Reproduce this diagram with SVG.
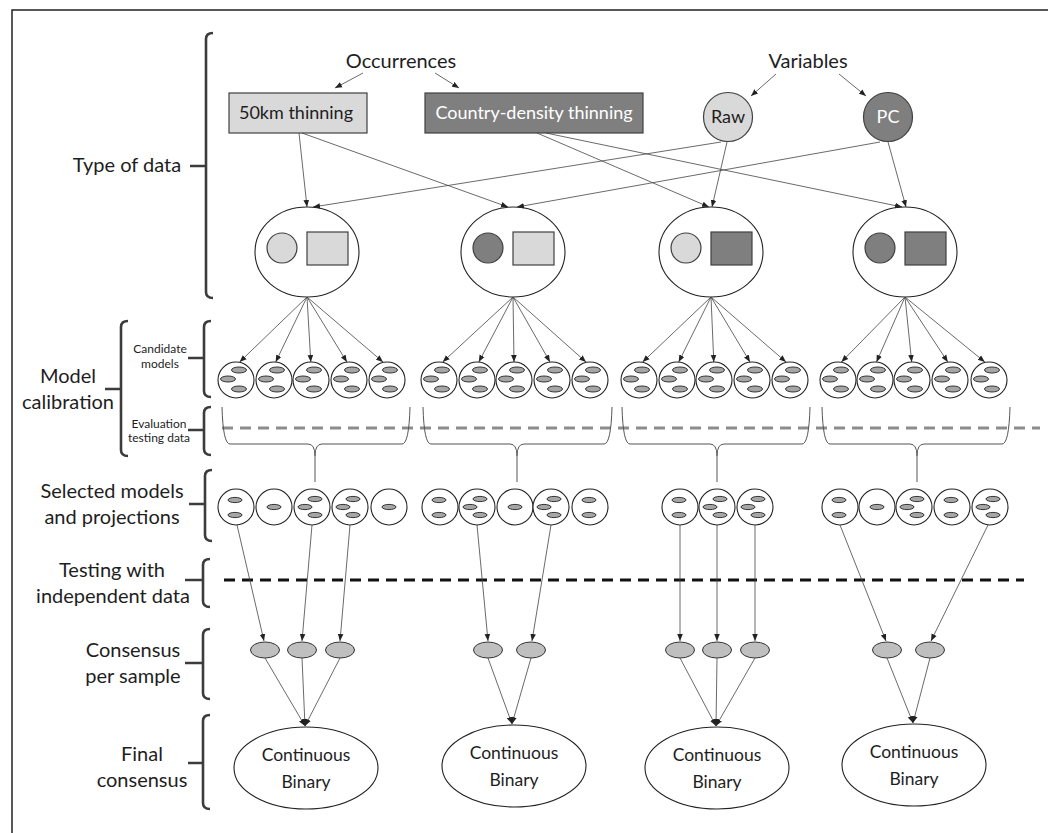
<svg xmlns="http://www.w3.org/2000/svg" xmlns:xlink="http://www.w3.org/1999/xlink" width="1048" height="833" viewBox="0 0 1048 833">
<style>
.t{font-family:Lato,"Open Sans","DejaVu Sans",sans-serif;fill:#1e1e1e}
.big{font-size:20px}
.top{font-size:20px}
.box{font-size:18px}
.sm{font-size:12px}
.fin{font-size:17.5px}
.br{fill:none;stroke:#3c3c3c;stroke-width:2.6}
.brace{fill:none;stroke:#555;stroke-width:1}
.con{fill:none;stroke:#444;stroke-width:0.8}
.light{fill:#d9d9d9;stroke:#404040;stroke-width:1.2}
.dark{fill:#7f7f7f;stroke:#404040;stroke-width:1.2}
.node{fill:#fff;stroke:#222;stroke-width:1.1}
.mini{fill:#a6a6a6;stroke:#222;stroke-width:0.9}
.cons{fill:#bfbfbf;stroke:#333;stroke-width:1}
</style>
<defs>
<marker id="ah" viewBox="0 0 10 10" refX="10" refY="5" markerWidth="7" markerHeight="7" markerUnits="userSpaceOnUse" orient="auto"><path d="M0,1 L10,5 L0,9 z" fill="#222"/></marker>
<g id="cand"><circle r="18" class="node"/><ellipse cx="3" cy="-10" rx="7.5" ry="3" class="mini"/><ellipse cx="-8" cy="-1" rx="7.5" ry="3" class="mini"/><ellipse cx="3" cy="9" rx="7.5" ry="3" class="mini"/></g>
<g id="s3"><circle r="18" class="node"/><ellipse cx="3" cy="-8" rx="7" ry="2.6" class="mini"/><ellipse cx="-7" cy="0" rx="7" ry="2.6" class="mini"/><ellipse cx="3" cy="8" rx="7" ry="2.6" class="mini"/></g>
<g id="s2"><circle r="18" class="node"/><ellipse cx="-1" cy="-7" rx="7" ry="2.6" class="mini"/><ellipse cx="-1" cy="8" rx="7" ry="2.6" class="mini"/></g>
<g id="s1"><circle r="18" class="node"/><ellipse cx="0" cy="0" rx="7" ry="2.6" class="mini"/></g>
</defs>
<rect width="1048" height="833" fill="#fff"/>
<g id="frame" fill="none" stroke="#222" stroke-width="1.5"><path d="M12 833 V10 H1048"/></g>

<g id="labels">
<text class="t big" x="127" y="172" text-anchor="middle">Type of data</text>
<path class="br" d="M213 33 Q206 33 206 39 V292 Q206 298 213 298 M190 166 H206"/>
<text class="t big" x="68" y="383" text-anchor="middle">Model</text>
<text class="t big" x="68" y="409" text-anchor="middle">calibration</text>
<path class="br" d="M128 321 Q121 321 121 327 V450 Q121 456 128 456 M105 389 H121"/>
<text class="t sm" x="160" y="353" text-anchor="middle">Candidate</text>
<text class="t sm" x="160" y="368" text-anchor="middle">models</text>
<path class="br" d="M211 321 Q204 321 204 327 V391 Q204 397 211 397 M188 358 H204"/>
<text class="t sm" x="159" y="428" text-anchor="middle">Evaluation</text>
<text class="t sm" x="159" y="442" text-anchor="middle">testing data</text>
<path class="br" d="M211 407 Q204 407 204 413 V449 Q204 455 211 455 M188 430 H204"/>
<text class="t big" x="112" y="498" text-anchor="middle">Selected models</text>
<text class="t big" x="112" y="524" text-anchor="middle">and projections</text>
<path class="br" d="M212 470 Q205 470 205 476 V535 Q205 541 212 541 M189 504 H205"/>
<text class="t big" x="112" y="577" text-anchor="middle">Testing with</text>
<text class="t big" x="113" y="603" text-anchor="middle">independent data</text>
<path class="br" d="M210 559 Q203 559 203 565 V601 Q203 607 210 607 M185 580 H203"/>
<text class="t big" x="133" y="657" text-anchor="middle">Consensus</text>
<text class="t big" x="133" y="683" text-anchor="middle">per sample</text>
<path class="br" d="M210 629 Q203 629 203 635 V693 Q203 699 210 699 M185 663 H203"/>
<text class="t big" x="142" y="761" text-anchor="middle">Final</text>
<text class="t big" x="142" y="787" text-anchor="middle">consensus</text>
<path class="br" d="M210 715 Q203 715 203 721 V803 Q203 809 210 809 M188 763 H203"/>
</g>

<g id="occurrences"><text class="t top" x="401" y="68" text-anchor="middle">Occurrences</text></g>
<g id="variables"><text class="t top" x="808" y="68" text-anchor="middle">Variables</text></g>
<g id="thin50"><rect x="229" y="93" width="138" height="40" class="light"/><text class="t box" x="296" y="119" text-anchor="middle">50km thinning</text></g>
<g id="thinCountry"><rect x="425" y="93" width="218" height="40" class="dark"/><text class="t box" x="534" y="119" text-anchor="middle" style="fill:#fff">Country-density thinning</text></g>
<g id="raw"><circle cx="728" cy="117" r="24.5" class="light"/><text class="t box" x="728" y="123" text-anchor="middle">Raw</text></g>
<g id="pc"><circle cx="888" cy="117" r="24.5" class="dark"/><text class="t box" x="888" y="123" text-anchor="middle" style="fill:#fff">PC</text></g>

<g id="combo1"><ellipse cx="307" cy="252" rx="52" ry="45" class="node"/><circle cx="282" cy="248" r="15" class="light"/><rect x="307" y="232" width="41" height="33" class="light"/></g>
<g id="combo2"><ellipse cx="513" cy="252" rx="52" ry="45" class="node"/><circle cx="488" cy="248" r="15" class="dark"/><rect x="513" y="232" width="41" height="33" class="light"/></g>
<g id="combo3"><ellipse cx="711" cy="252" rx="52" ry="45" class="node"/><circle cx="686" cy="248" r="15" class="light"/><rect x="711" y="232" width="41" height="33" class="dark"/></g>
<g id="combo4"><ellipse cx="905" cy="252" rx="52" ry="45" class="node"/><circle cx="880" cy="248" r="15" class="dark"/><rect x="905" y="232" width="41" height="33" class="dark"/></g>

<g id="candidates">
<use xlink:href="#cand" x="236" y="380"/><use xlink:href="#cand" x="274" y="380"/><use xlink:href="#cand" x="311" y="380"/><use xlink:href="#cand" x="349" y="380"/><use xlink:href="#cand" x="387" y="380"/>
<use xlink:href="#cand" x="439" y="380"/><use xlink:href="#cand" x="477" y="380"/><use xlink:href="#cand" x="514" y="380"/><use xlink:href="#cand" x="552" y="380"/><use xlink:href="#cand" x="590" y="380"/>
<use xlink:href="#cand" x="639" y="380"/><use xlink:href="#cand" x="677" y="380"/><use xlink:href="#cand" x="714" y="380"/><use xlink:href="#cand" x="752" y="380"/><use xlink:href="#cand" x="790" y="380"/>
<use xlink:href="#cand" x="838" y="380"/><use xlink:href="#cand" x="875" y="380"/><use xlink:href="#cand" x="912" y="380"/><use xlink:href="#cand" x="950" y="380"/><use xlink:href="#cand" x="989" y="380"/>
</g>

<g id="evaluation">
<line x1="222" y1="428" x2="1040" y2="428" stroke="#8c8c8c" stroke-width="3" stroke-dasharray="11 7"/>
<path class="brace" d="M222 407 Q223 444 230 444 H308 Q315 444 315 456 V482 M410 407 Q409 444 402 444 H322 Q315 444 315 456"/>
<path class="brace" d="M423 407 Q424 444 431 444 H510 Q517 444 517 456 V482 M612 407 Q611 444 604 444 H524 Q517 444 517 456"/>
<path class="brace" d="M622 407 Q623 444 630 444 H710 Q717 444 717 456 V482 M810 407 Q809 444 802 444 H724 Q717 444 717 456"/>
<path class="brace" d="M822 407 Q823 444 830 444 H910 Q917 444 917 456 V482 M1010 407 Q1009 444 1002 444 H924 Q917 444 917 456"/>
</g>

<g id="selected">
<use xlink:href="#s2" x="236" y="507"/><use xlink:href="#s1" x="274" y="507"/><use xlink:href="#s3" x="312" y="507"/><use xlink:href="#s3" x="350" y="507"/><use xlink:href="#s1" x="389" y="507"/>
<use xlink:href="#s2" x="440" y="507"/><use xlink:href="#s3" x="477" y="507"/><use xlink:href="#s1" x="515" y="507"/><use xlink:href="#s3" x="551" y="507"/><use xlink:href="#s2" x="590" y="507"/>
<use xlink:href="#s2" x="680" y="507"/><use xlink:href="#s3" x="717" y="507"/><use xlink:href="#s3" x="755" y="507"/>
<use xlink:href="#s2" x="840" y="507"/><use xlink:href="#s1" x="877" y="507"/><use xlink:href="#s3" x="914" y="507"/><use xlink:href="#s2" x="952" y="507"/><use xlink:href="#s3" x="990" y="507"/>
</g>

<g id="testing"><line x1="224" y1="580" x2="1024" y2="580" stroke="#111" stroke-width="3" stroke-dasharray="11 7"/></g>

<g id="consensus">
<ellipse cx="265" cy="650" rx="14.5" ry="8" class="cons"/><ellipse cx="302" cy="650" rx="14.5" ry="8" class="cons"/><ellipse cx="340" cy="650" rx="14.5" ry="8" class="cons"/>
<ellipse cx="488" cy="650" rx="14.5" ry="8" class="cons"/><ellipse cx="531" cy="650" rx="14.5" ry="8" class="cons"/>
<ellipse cx="680" cy="650" rx="14.5" ry="8" class="cons"/><ellipse cx="717" cy="650" rx="14.5" ry="8" class="cons"/><ellipse cx="755" cy="650" rx="14.5" ry="8" class="cons"/>
<ellipse cx="887" cy="650" rx="14.5" ry="8" class="cons"/><ellipse cx="930" cy="650" rx="14.5" ry="8" class="cons"/>
</g>

<g id="final1"><ellipse cx="306" cy="768" rx="72" ry="41" class="node"/><text class="t fin" x="306" y="761" text-anchor="middle">Continuous</text><text class="t fin" x="306" y="788" text-anchor="middle">Binary</text></g>
<g id="final2"><ellipse cx="514" cy="766" rx="72" ry="41" class="node"/><text class="t fin" x="514" y="759" text-anchor="middle">Continuous</text><text class="t fin" x="514" y="786" text-anchor="middle">Binary</text></g>
<g id="final3"><ellipse cx="717" cy="768" rx="72" ry="41" class="node"/><text class="t fin" x="717" y="761" text-anchor="middle">Continuous</text><text class="t fin" x="717" y="788" text-anchor="middle">Binary</text></g>
<g id="final4"><ellipse cx="914" cy="765" rx="72" ry="41" class="node"/><text class="t fin" x="914" y="758" text-anchor="middle">Continuous</text><text class="t fin" x="914" y="785" text-anchor="middle">Binary</text></g>

<g id="connectors" class="con" marker-end="url(#ah)">
<line x1="363" y1="73" x2="335" y2="88"/><line x1="435" y1="73" x2="459" y2="88"/>
<line x1="776" y1="74" x2="751" y2="96"/><line x1="839" y1="74" x2="866" y2="96"/>
<line x1="299" y1="133" x2="307" y2="207"/>
<line x1="302" y1="133" x2="508" y2="207"/>
<line x1="721" y1="142" x2="313" y2="207"/>
<line x1="880" y1="142" x2="517" y2="207"/>
<line x1="537" y1="133" x2="709" y2="207"/>
<line x1="546" y1="133" x2="902" y2="207"/>
<line x1="727" y1="142" x2="712" y2="207"/>
<line x1="888" y1="142" x2="906" y2="207"/>
<line x1="307" y1="297" x2="239.6" y2="362"/><line x1="307" y1="297" x2="275.7" y2="362"/><line x1="307" y1="297" x2="310.8" y2="362"/><line x1="307" y1="297" x2="346.9" y2="362"/><line x1="307" y1="297" x2="383" y2="362"/>
<line x1="513" y1="297" x2="442.7" y2="362"/><line x1="513" y1="297" x2="478.8" y2="362"/><line x1="513" y1="297" x2="514" y2="362"/><line x1="513" y1="297" x2="550" y2="362"/><line x1="513" y1="297" x2="586" y2="362"/>
<line x1="711" y1="297" x2="642.6" y2="362"/><line x1="711" y1="297" x2="678.7" y2="362"/><line x1="711" y1="297" x2="713.8" y2="362"/><line x1="711" y1="297" x2="750" y2="362"/><line x1="711" y1="297" x2="786" y2="362"/>
<line x1="905" y1="297" x2="841.4" y2="362"/><line x1="905" y1="297" x2="876.5" y2="362"/><line x1="905" y1="297" x2="911.7" y2="362"/><line x1="905" y1="297" x2="947.8" y2="362"/><line x1="905" y1="297" x2="984.8" y2="362"/>
<line x1="237" y1="525" x2="264" y2="641"/><line x1="312" y1="525" x2="302" y2="641"/><line x1="350" y1="525" x2="340" y2="641"/>
<line x1="477" y1="525" x2="488" y2="641"/><line x1="551" y1="525" x2="532" y2="641"/>
<line x1="680" y1="525" x2="680" y2="641"/><line x1="717" y1="525" x2="717" y2="641"/><line x1="755" y1="525" x2="755" y2="641"/>
<line x1="840" y1="525" x2="886" y2="641"/><line x1="988" y1="525" x2="931" y2="641"/>
<line x1="265" y1="658" x2="305" y2="726"/><line x1="302" y1="658" x2="305" y2="726"/><line x1="340" y1="658" x2="305" y2="726"/>
<line x1="488" y1="658" x2="512" y2="724"/><line x1="531" y1="658" x2="512" y2="724"/>
<line x1="680" y1="658" x2="716" y2="726"/><line x1="717" y1="658" x2="716" y2="726"/><line x1="755" y1="658" x2="716" y2="726"/>
<line x1="887" y1="658" x2="913" y2="723"/><line x1="930" y1="658" x2="913" y2="723"/>
</g>
</svg>
